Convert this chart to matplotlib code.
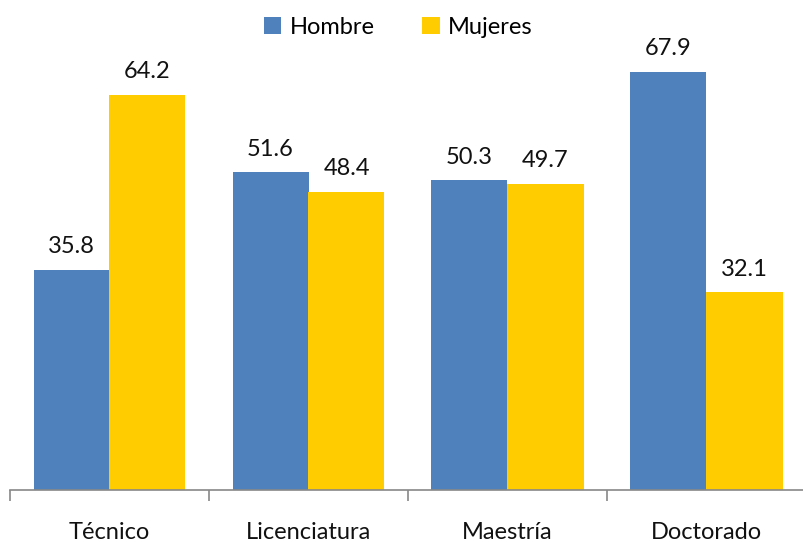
import matplotlib.pyplot as plt
import numpy as np

categories = ["Técnico", "Licenciatura", "Maestría", "Doctorado"]
hombre = [35.8, 51.6, 50.3, 67.9]
mujeres = [64.2, 48.4, 49.7, 32.1]
series_names = ["Hombre", "Mujeres"]

plt.rcParams["font.family"] = ["Lato", "DejaVu Sans"]

fig = plt.figure(figsize=(8.04, 5.42), dpi=100)
H = 542
ax = fig.add_axes([10 / 804, 52 / H, 796 / 804, 431 / H])

x = np.arange(len(categories)) + 0.5
w = 76 / 199
b1 = ax.bar(x - w / 2, hombre, w, color="#4F81BD", label=series_names[0])
b2 = ax.bar(x + w / 2, mujeres, w, color="#FFCC00", label=series_names[1])

for bars, vals in ((b1, hombre), (b2, mujeres)):
    for r, v in zip(bars, vals):
        ax.annotate(f"{v:.1f}", (r.get_x() + r.get_width() / 2, v),
                    xytext=(0, 9), textcoords="offset points",
                    ha="center", va="bottom", fontsize=17, color="#111111")

ax.set_xlim(0, 4)
ax.set_ylim(0, 70)
ax.set_xticks(x)
ax.set_xticklabels(categories, fontsize=17, color="#111111")
ax.set_xticks(np.arange(0, 5), minor=True)
ax.tick_params(axis="x", which="major", length=0, pad=23)
ax.tick_params(axis="x", which="minor", length=8, width=1.2, color="#888888")
ax.set_yticks([])
for s in ("top", "right", "left"):
    ax.spines[s].set_visible(False)
ax.spines["bottom"].set_color("#888888")
ax.spines["bottom"].set_linewidth(1.2)

fig.legend(handles=[b1, b2], loc="center", bbox_to_anchor=(398 / 804, 1 - 27 / H),
           ncol=2, frameon=False, fontsize=17, handlelength=0.75, handleheight=0.75,
           handletextpad=0.35, columnspacing=2.0)

fig.savefig("out.png", dpi=100)
